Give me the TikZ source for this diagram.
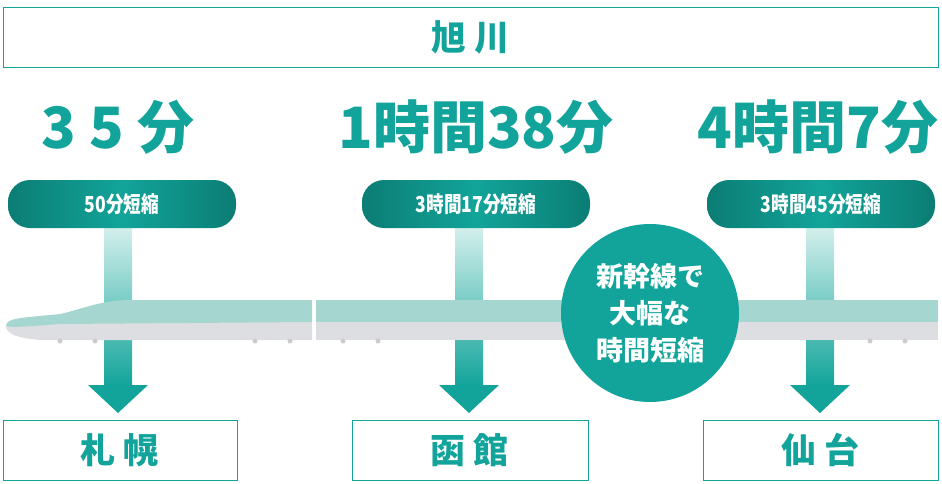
\documentclass[tikz,border=0pt]{standalone}
\usepackage{fontspec}
\setmainfont{Noto Sans CJK JP}
\usetikzlibrary{positioning}
\definecolor{teal1}{HTML}{12A49A}
\definecolor{tealdark}{HTML}{0B7D74}
\definecolor{tealpale}{HTML}{D3EFEC}
\definecolor{trainup}{HTML}{A6D6D0}
\definecolor{traindn}{HTML}{DDDEE2}
\tikzset{
  citybox/.style={draw=teal1,line width=0.8pt,minimum height=60pt,inner sep=0pt,text=teal1,font=\bfseries\fontsize{35}{35}\selectfont},
  bigtime/.style={text=teal1,font=\bfseries\fontsize{57}{57}\selectfont,inner sep=0pt},
  pill/.style={rounded corners=22pt,minimum width=228pt,minimum height=48pt,inner sep=0pt,text=white,
    font=\bfseries\fontsize{22}{22}\selectfont,left color=tealdark,right color=tealdark,middle color=teal1},
  shaft/.style={top color=tealpale,bottom color=teal1}
}
\begin{document}
\begin{tikzpicture}[x=1pt,y=-1pt]
  \useasboundingbox (0,0) rectangle (942,483);
  % top
  \node[citybox,minimum width=935pt] (asahikawa) at (470.5,37) {旭 川};
  % shafts and arrows
  \foreach \cx in {118,469,820}
  {
    \fill[shaft] (\cx-14,228) rectangle (\cx+14,386);
    \fill[teal1] (\cx-30,385) -- (\cx+30,385) -- (\cx,413) -- cycle;
  }
  % train
  \fill[traindn] (20,322) -- (312,322) -- (312,340) -- (40,340) .. controls (15,338) and (6,333) .. (6,326) -- cycle;
  \fill[trainup] (6,326) .. controls (6,318) and (20,318) .. (60,314) .. controls (80,310) and (100,300) .. (130,300)
    -- (312,300) -- (312,322) -- (60,324) .. controls (30,326) and (15,328) .. (6,326) -- cycle;
  \fill[traindn] (316,322) rectangle (938,340);
  \fill[trainup] (316,300) rectangle (938,322);
  \foreach \wx in {60,95,255,290,343,378,870,905}
    \fill[gray!40] (\wx,341) circle (2.5pt);
  % circle
  \node[circle,fill=teal1,minimum size=178pt,inner sep=0pt,text=white,align=center,
    font=\bfseries\fontsize{27}{37}\selectfont] (cut) at (650,313) {新幹線で\\大幅な\\時間短縮};
  % times
  \node[bigtime] (t1) at (118,127) {3 5 分};
  \node[bigtime] (t2) at (476,127) {1時間38分};
  \node[bigtime] (t3) at (818,127) {4時間7分};
  % pills
  \node[pill] (p1) at (122,204) {\scalebox{0.8}[1]{50分短縮}};
  \node[pill] (p2) at (476,204) {\scalebox{0.8}[1]{3時間17分短縮}};
  \node[pill] (p3) at (821,204) {\scalebox{0.8}[1]{3時間45分短縮}};
  % cities
  \node[citybox,minimum width=234pt] (sapporo) at (120,450) {札 幌};
  \node[citybox,minimum width=236pt] (hakodate) at (470,450) {函 館};
  \node[citybox,minimum width=235pt] (sendai) at (820.5,450) {仙 台};
\end{tikzpicture}
\end{document}
